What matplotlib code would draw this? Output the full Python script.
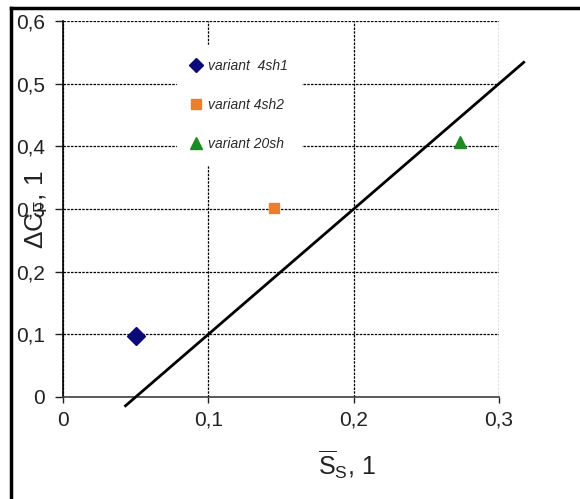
import matplotlib
matplotlib.use("Agg")
import matplotlib.pyplot as plt
from matplotlib.lines import Line2D

plt.rcParams["font.family"] = ["Liberation Sans", "DejaVu Sans"]
plt.rcParams["mathtext.fontset"] = "custom"
plt.rcParams["mathtext.rm"] = "Liberation Sans"
plt.rcParams["mathtext.it"] = "Liberation Sans:italic"

# data
variants = ["variant  4sh1", "variant 4sh2", "variant 20sh"]
var_x = [0.05, 0.145, 0.273]
var_y = [0.098, 0.301, 0.407]
var_markers = ["D", "s", "^"]
var_colors = ["#0a0a78", "#ee7d2d", "#1f8a24"]
var_sizes = [9, 7, 9]
legend_sizes = [7, 7, 9]

line_x = [0.043, 0.317]
line_y = [-0.014, 0.534]

x_ticks = [0, 0.1, 0.2, 0.3]
x_labels = ["0", "0,1", "0,2", "0,3"]
y_ticks = [0, 0.1, 0.2, 0.3, 0.4, 0.5, 0.6]
y_labels = ["0", "0,1", "0,2", "0,3", "0,4", "0,5", "0,6"]

fig = plt.figure(figsize=(5.8, 4.99), dpi=100)
ax = fig.add_axes([63 / 580, 102 / 499, 436 / 580, 376 / 499])

for lab, x, y, m, c, s in zip(variants, var_x, var_y, var_markers, var_colors, var_sizes):
    ax.plot([x], [y], linestyle="none", marker=m, color=c, markersize=s,
            label=lab, zorder=4, clip_on=False)

ax.plot(line_x, line_y, color="black", linewidth=2, clip_on=False, zorder=3)

ax.set_xlim(0, 0.3)
ax.set_ylim(0, 0.6)
ax.set_xticks(x_ticks)
ax.set_xticklabels(x_labels)
ax.set_yticks(y_ticks)
ax.set_yticklabels(y_labels)
ax.tick_params(axis="both", labelsize=15, colors="#222222", width=1)
ax.tick_params(axis="x", length=4, pad=6)
ax.tick_params(axis="y", length=6, pad=7)

ax.grid(True, color="black", linestyle=(0, (2, 1)), linewidth=0.9)
ax.set_axisbelow(True)
for side in ["top", "right"]:
    ax.spines[side].set_visible(False)
ax.spines["left"].set_color("black")
ax.spines["left"].set_linewidth(1.2)
ax.spines["bottom"].set_color("#404040")
ax.spines["bottom"].set_linewidth(1.2)

leg = ax.legend(loc="upper left", bbox_to_anchor=((177 - 63) / 436, (397 - 45) / 376),
                borderaxespad=0, frameon=True, fancybox=False, borderpad=1.0,
                handlelength=0.8, handletextpad=0.4, labelspacing=1.8,
                prop={"size": 10, "style": "italic"})
leg.get_frame().set_facecolor("white")
leg.get_frame().set_edgecolor("white")
leg.get_frame().set_alpha(1)
leg.set_zorder(5)
for h, s in zip(leg.legend_handles, legend_sizes):
    h.set_markersize(s)
for t in leg.get_texts():
    t.set_color("#2a2a2a")

fig.text(37 / 580, 1 - 210 / 499, r"$\Delta\mathrm{C}_{\mathrm{F}}$, 1", rotation=90,
         ha="center", va="center", fontsize=19, color="#222222")
fig.text(347 / 580, 1 - 465 / 499, r"$\overline{\mathrm{S}}_{\mathrm{S}}$, 1",
         ha="center", va="center", fontsize=18, color="#222222")

# outer frame (top and left only)
fig.add_artist(Line2D([11 / 580, 1], [1 - 8 / 499, 1 - 8 / 499], color="black",
                      linewidth=2.5, transform=fig.transFigure))
fig.add_artist(Line2D([11 / 580, 11 / 580], [0, 1 - 8 / 499], color="black",
                      linewidth=2.5, transform=fig.transFigure))

fig.savefig("out.png", dpi=100)
